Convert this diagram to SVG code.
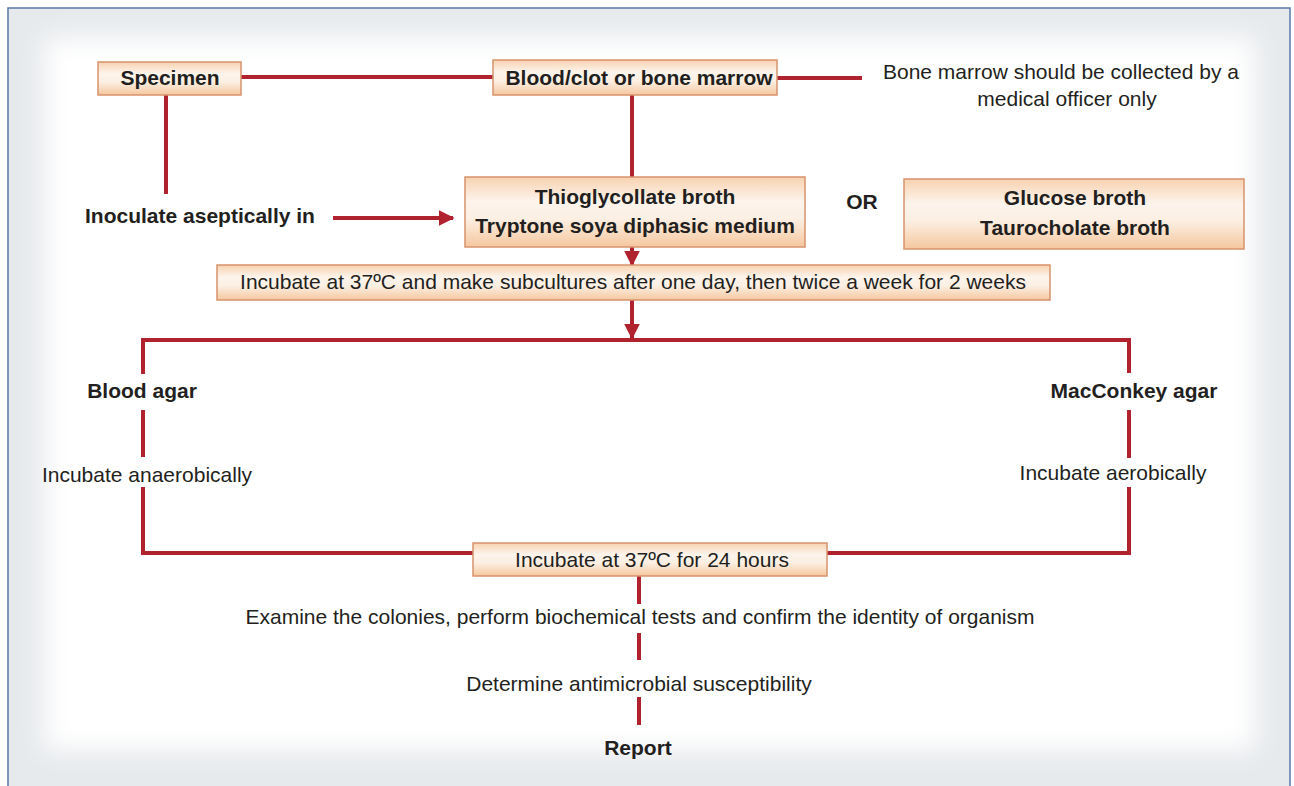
<svg xmlns="http://www.w3.org/2000/svg" width="1294" height="786" viewBox="0 0 1294 786">
<defs>
<linearGradient id="boxg" x1="0" y1="0" x2="0" y2="1">
<stop offset="0" stop-color="#f7d2b0"/>
<stop offset="0.35" stop-color="#fdf4ec"/>
<stop offset="0.6" stop-color="#fcefe3"/>
<stop offset="1" stop-color="#f5c79e"/>
</linearGradient>
<filter id="soft" x="-0.2" y="-0.2" width="1.4" height="1.4"><feGaussianBlur stdDeviation="12"/></filter>
<marker id="ah" viewBox="0 0 10 10" refX="9" refY="5" markerWidth="4" markerHeight="4" orient="auto" markerUnits="strokeWidth">
<path d="M0,0 L10,5 L0,10 z" fill="#b0222e"/>
</marker>
<style>
.box{fill:url(#boxg);stroke:#d8936c;stroke-width:1.5}
.ln{fill:none;stroke:#b0222e;stroke-width:4}
.b{font-family:"Liberation Sans",Arial,sans-serif;font-weight:bold;font-size:21px;fill:#231f20;text-anchor:middle}
.r{font-family:"Liberation Sans",Arial,sans-serif;font-size:21px;fill:#231f20;text-anchor:middle}
</style>
</defs>
<rect x="0" y="0" width="1294" height="786" fill="#ffffff"/>
<rect x="8" y="8" width="1282" height="790" fill="#e7eaed" stroke="#5a78a8" stroke-width="1.5"/>
<rect x="45" y="38" width="1210" height="712" fill="#ffffff" filter="url(#soft)"/>

<g id="connectors">
<line class="ln" x1="241" y1="77" x2="493" y2="77"/>
<line class="ln" x1="777" y1="78" x2="862" y2="78"/>
<line class="ln" x1="166" y1="95" x2="166" y2="194"/>
<line class="ln" x1="333" y1="218" x2="453" y2="218" marker-end="url(#ah)"/>
<line class="ln" x1="632" y1="95" x2="632" y2="177"/>
<line class="ln" x1="632" y1="247" x2="632" y2="265" marker-end="url(#ah)"/>
<line class="ln" x1="632" y1="300" x2="632" y2="338" marker-end="url(#ah)"/>
<line class="ln" x1="141" y1="340" x2="1131" y2="340"/>
<polyline class="ln" points="143,338 143,374"/>
<line class="ln" x1="143" y1="410" x2="143" y2="457"/>
<polyline class="ln" points="143,487 143,553 475,553"/>
<polyline class="ln" points="1129,338 1129,373"/>
<line class="ln" x1="1129" y1="410" x2="1129" y2="458"/>
<polyline class="ln" points="1129,487 1129,553 827,553"/>
<line class="ln" x1="639" y1="576" x2="639" y2="604"/>
<line class="ln" x1="639" y1="633" x2="639" y2="660"/>
<line class="ln" x1="639" y1="697" x2="639" y2="725"/>
</g>

<g id="specimen">
<rect class="box" x="98" y="62" width="143" height="33"/>
<text class="b" x="170" y="85">Specimen</text>
</g>
<g id="blood-clot">
<rect class="box" x="493" y="60" width="284" height="35"/>
<text class="b" x="639" y="85">Blood/clot or bone marrow</text>
</g>
<g id="note">
<text class="r" x="1061" y="79">Bone marrow should be collected by a</text>
<text class="r" x="1067" y="106">medical officer only</text>
</g>
<g id="inoculate">
<text class="b" x="200" y="223">Inoculate aseptically in</text>
</g>
<g id="thioglycollate">
<rect class="box" x="465" y="177" width="340" height="70"/>
<text class="b" x="635" y="204">Thioglycollate broth</text>
<text class="b" x="635" y="233">Tryptone soya diphasic medium</text>
</g>
<g id="or">
<text class="b" x="862" y="209">OR</text>
</g>
<g id="glucose">
<rect class="box" x="904" y="179" width="340" height="70"/>
<text class="b" x="1075" y="205">Glucose broth</text>
<text class="b" x="1075" y="235">Taurocholate broth</text>
</g>
<g id="incubate-subculture">
<rect class="box" x="217" y="265" width="833" height="35"/>
<text class="r" x="633" y="289">Incubate at 37ºC and make subcultures after one day, then twice a week for 2 weeks</text>
</g>
<g id="blood-agar">
<text class="b" x="142" y="398">Blood agar</text>
</g>
<g id="anaerobic">
<text class="r" x="147" y="482">Incubate anaerobically</text>
</g>
<g id="macconkey">
<text class="b" x="1134" y="398">MacConkey agar</text>
</g>
<g id="aerobic">
<text class="r" x="1113" y="480">Incubate aerobically</text>
</g>
<g id="incubate-24">
<rect class="box" x="473" y="543" width="354" height="33"/>
<text class="r" x="652" y="567">Incubate at 37ºC for 24 hours</text>
</g>
<g id="examine">
<text class="r" x="640" y="624">Examine the colonies, perform biochemical tests and confirm the identity of organism</text>
</g>
<g id="determine">
<text class="r" x="639" y="691">Determine antimicrobial susceptibility</text>
</g>
<g id="report">
<text class="b" x="638" y="755">Report</text>
</g>
</svg>
